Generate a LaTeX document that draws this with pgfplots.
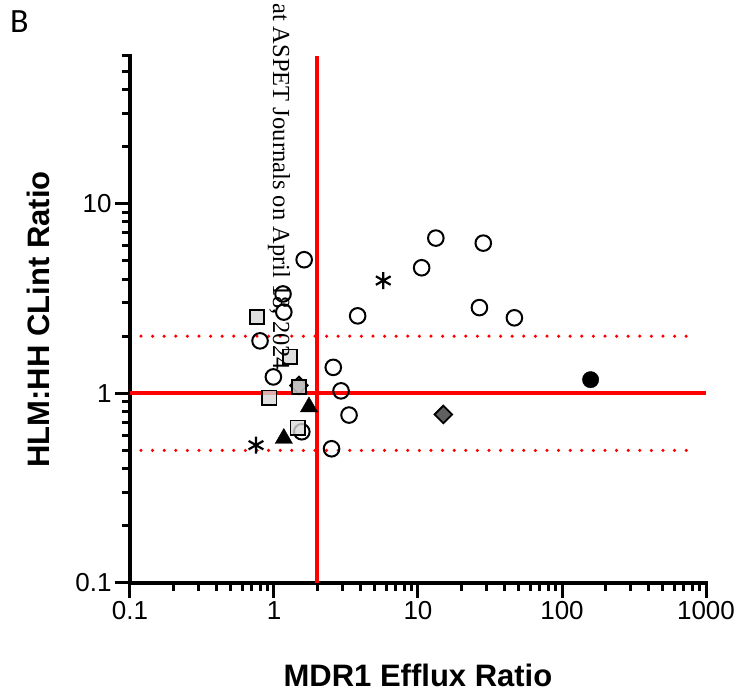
\documentclass[border=0pt]{standalone}
\usepackage{pgfplots}
\pgfplotsset{compat=1.18}
\usepackage{fontspec}
\setmainfont{Liberation Sans}
\newfontfamily\wmfont{Liberation Serif}
\newfontfamily\carlito{Carlito}
\definecolor{sqgray}{RGB}{215,215,215}
\definecolor{dmgray}{RGB}{96,96,96}
\begin{document}
\begin{tikzpicture}[x=1pt,y=1pt]
\path[use as bounding box] (0,0) rectangle (744,700);
\node[anchor=base west, font=\carlito\fontsize{34}{40}\selectfont, inner sep=0] at (10,667) {B};
\begin{axis}[
  at={(130pt,117pt)}, anchor=south west,
  scale only axis, width=576pt, height=527pt,
  xmode=log, ymode=log,
  xmin=0.1, xmax=1000, ymin=0.1, ymax=60,
  axis lines*=left,
  axis line style={line width=3.4pt, line cap=rect},
  every tick/.style={black, line width=3pt},
  tick align=outside,
  major tick length=15pt, minor tick length=8pt,
  xtick={0.1,1,10,100,1000}, xticklabels={0.1,1,10,100,1000},
  minor xtick={0.2,0.3,0.4,0.5,0.6,0.7,0.8,0.9,2,3,4,5,6,7,8,9,20,30,40,50,60,70,80,90,200,300,400,500,600,700,800,900},
  ytick={0.1,1,10}, yticklabels={0.1,1,10},
  minor ytick={0.2,0.3,0.4,0.5,0.6,0.7,0.8,0.9,2,3,4,5,6,7,8,9,20,30,40,50,60},
  tick label style={font=\fontsize{26}{30}\selectfont},
  xlabel={MDR1 Efflux Ratio},
  ylabel={HLM:HH CLint Ratio},
  label style={font=\bfseries\fontsize{31}{36}\selectfont},
  xlabel style={at={(rel axis cs:0.5,0)}, anchor=base, yshift=-104pt},
  ylabel style={at={(rel axis cs:0,0.5)}, anchor=base, yshift=80pt},
  clip=false,
]
% reference lines
\addplot[red, line width=4pt] coordinates {(0.1,1) (1000,1)};
\addplot[red, line width=4pt] coordinates {(2,0.1) (2,60)};
\addplot[red, line width=3.5pt, line cap=round, dash pattern=on 0pt off 11.6pt] coordinates {(0.1192,2) (820,2)};
\addplot[red, line width=3.5pt, line cap=round, dash pattern=on 0pt off 11.6pt] coordinates {(0.1192,0.5) (820,0.5)};
% diamonds
\addplot[only marks, mark=square*, mark size=6.2pt, mark options={rotate=45, fill=dmgray, draw=black, line width=1.8pt}] coordinates {
(15.0,0.774) (1.49,1.10)
};
% open circles
\addplot[only marks, mark=o, mark size=7.8pt, mark options={draw=black, line width=2pt}] coordinates {
(1.62,5.06) (1.155,3.34) (1.17,2.68) (0.80,1.89) (0.99,1.22) (1.56,0.627)
(2.51,0.51) (2.58,1.37) (2.92,1.03) (3.32,0.768) (3.81,2.56) (10.6,4.59)
(13.3,6.58) (28.4,6.19) (26.7,2.83) (46.7,2.50)
};
% filled circle
\addplot[only marks, mark=*, mark size=8.2pt, mark options={fill=black, draw=black}] coordinates {
(158,1.18)
};
% asterisks
\addplot[only marks, mark=asterisk, mark size=8.5pt, mark options={draw=black, line width=2.2pt}] coordinates {
(5.74,3.93) (0.75,0.533)
};
% squares
\addplot[only marks, mark=square*, mark size=7.2pt, mark options={fill=sqgray, fill opacity=0.8, draw=black, line width=1.8pt}] coordinates {
(0.76,2.53) (1.29,1.56) (1.49,1.08) (0.928,0.949) (1.46,0.658)
};
% triangles
\addplot[only marks, mark=triangle*, mark size=10pt, mark options={fill=black, draw=black}] coordinates {
(1.75,0.847) (1.17,0.578)
};
\end{axis}
\node[rotate=-90, anchor=base west, inner sep=0, font=\wmfont\fontsize{24.5}{28}\selectfont] at (273,697) {at ASPET Journals on April 18, 2024};
\end{tikzpicture}
\end{document}
